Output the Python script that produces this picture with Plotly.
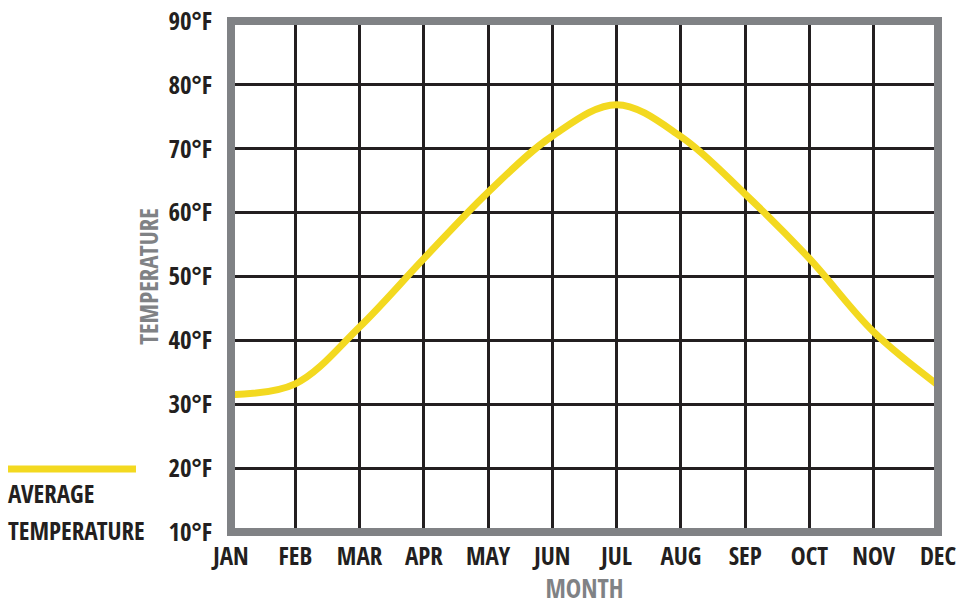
import plotly.graph_objects as go

MONTHS = ['JAN', 'FEB', 'MAR', 'APR', 'MAY', 'JUN',
          'JUL', 'AUG', 'SEP', 'OCT', 'NOV', 'DEC']
AVG_TEMP_F = [31.5, 33.2, 42.1, 52.8, 63.2, 72.0,
              76.9, 71.9, 62.9, 52.8, 41.3, 33.0]
Y_TICKS = [10, 20, 30, 40, 50, 60, 70, 80, 90]
Y_TICK_LABELS = [f'{t}°F' for t in Y_TICKS]
LEGEND_LINES = ['AVERAGE', 'TEMPERATURE']

_FONT = 'Open Sans Condensed, Roboto Condensed, sans-serif'
_BORDER = '#808285'
_GRID = '#231f20'
_YELLOW = '#f3d920'


def _font(size, color=_GRID):
    return {'family': _FONT, 'size': size, 'color': color, 'weight': 'bold'}


fig = go.Figure()
fig.add_trace(go.Scatter(
    x=MONTHS,
    y=AVG_TEMP_F,
    mode='lines',
    line={'color': _YELLOW, 'width': 7, 'shape': 'spline', 'smoothing': 1.0},
    name='AVERAGE TEMPERATURE',
    showlegend=False,
))

# gray frame centred on the plot edges (axis lines would sit outside)
fig.add_shape(type='rect', xref='paper', yref='paper', x0=0, x1=1, y0=0, y1=1,
              line={'color': _BORDER, 'width': 8}, layer='above')

# legend swatch + label drawn by hand on the left
fig.add_shape(type='line', xref='paper', yref='paper',
              x0=-0.3154, x1=-0.1344, y0=0.1233, y1=0.1233,
              line={'color': _YELLOW, 'width': 7})
for txt, ypos in zip(LEGEND_LINES, [0.0763, 0.0039]):
    fig.add_annotation(text=txt, xref='paper', yref='paper',
                       x=-0.3177, y=ypos, xanchor='left', yanchor='middle',
                       showarrow=False, font=_font(25))

_clear = 'rgba(0,0,0,0)'
fig.update_layout(
    width=960, height=606,
    margin=dict(l=231, r=22, t=21, b=74),
    paper_bgcolor='white',
    plot_bgcolor='white',
    font={'family': _FONT, 'color': _GRID},
    xaxis=dict(
        type='category',
        range=[0, 11],
        automargin=False,
        showgrid=True, gridcolor=_GRID, gridwidth=3,
        showline=True, linecolor=_clear, linewidth=8, mirror=True,
        ticks='', ticklabelstandoff=-5,
        tickfont=_font(25),
        title=dict(text='MONTH', standoff=14, font=_font(26, _BORDER)),
    ),
    yaxis=dict(
        range=[10, 90],
        automargin=False,
        tickvals=Y_TICKS, ticktext=Y_TICK_LABELS,
        showgrid=True, gridcolor=_GRID, gridwidth=3,
        zeroline=False,
        showline=True, linecolor=_clear, linewidth=8, mirror=True,
        ticks='', ticklabelstandoff=6,
        tickfont=_font(25),
        title=dict(text='TEMPERATURE', standoff=6, font=_font(25, _BORDER)),
    ),
)

fig.write_html('out.html', config={'displayModeBar': False},
               post_script="document.body.style.margin='0';")
